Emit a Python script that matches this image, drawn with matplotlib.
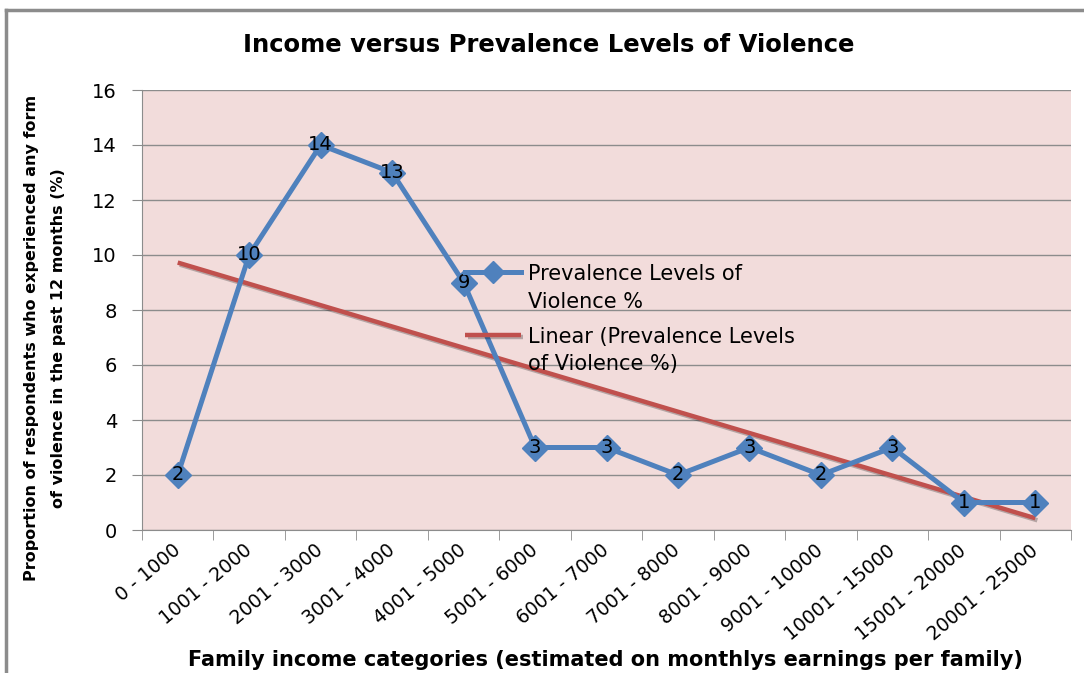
import numpy as np
import matplotlib
matplotlib.use('Agg')
import matplotlib.pyplot as plt
import matplotlib.patheffects as pe
from matplotlib.lines import Line2D
from matplotlib.legend_handler import HandlerLine2D

plt.rcParams['font.family'] = ['DejaVu Sans']

# income bands and share of respondents reporting violence (%)
categories = ['0 - 1000', '1001 - 2000', '2001 - 3000', '3001 - 4000', '4001 - 5000',
              '5001 - 6000', '6001 - 7000', '7001 - 8000', '8001 - 9000', '9001 - 10000',
              '10001 - 15000', '15001 - 20000', '20001 - 25000']
prevalence = [2, 10, 14, 13, 9, 3, 3, 2, 3, 2, 3, 1, 1]

blue = '#4F81BD'
red = '#C0504D'
grey = '#8C8C8C'
LEG_FS = 15


class TopLineHandler(HandlerLine2D):
    # put the legend key beside the first line of a two-line label
    def create_artists(self, legend, orig_handle, xdescent, ydescent, width, height,
                       fontsize, trans):
        arts = super().create_artists(legend, orig_handle, xdescent, ydescent, width,
                                      height, fontsize, trans)
        for a in arts:
            a.set_ydata(np.asarray(a.get_ydata(), dtype=float) + 0.8 * fontsize)
        return arts


x = np.arange(1, len(categories) + 1)
slope, intercept = np.polyfit(x, prevalence, 1)
trend = slope * x + intercept

fig = plt.figure(figsize=(10.84, 6.73), dpi=100)
ax = fig.add_axes([142/1084, 1 - 530/673, (1071 - 142)/1084, 440/673])
ax.set_facecolor('#F2DCDB')

ax.plot(x[[0, -1]], trend[[0, -1]], color=red, lw=3.2, solid_capstyle='butt',
        label='Linear (Prevalence Levels\nof Violence %)', zorder=3,
        path_effects=[pe.SimpleLineShadow(offset=(1.5, -1.5), alpha=0.25), pe.Normal()])
ax.plot(x, prevalence, color=blue, lw=3.6, marker='D', markersize=13,
        label='Prevalence Levels of\nViolence %', zorder=4)
for xi, v in zip(x, prevalence):
    ax.text(xi, v, str(v), ha='center', va='center', fontsize=14, color='black', zorder=5)

ax.set_xlim(0.5, len(categories) + 0.5)
ax.set_ylim(0, 16)
ax.set_yticks(np.arange(0, 17, 2))
ax.yaxis.grid(True, color=grey, lw=1)
ax.set_axisbelow(True)
ax.set_xticks(x)
ax.set_xticklabels(categories, rotation=40, ha='right', va='center', rotation_mode='anchor',
                   fontsize=13.5)
ax.set_xticks(np.arange(0.5, len(categories) + 1), minor=True)
ax.tick_params(axis='x', which='major', length=0, pad=13)
ax.tick_params(axis='x', which='minor', length=7, color=grey)
ax.tick_params(axis='y', length=7, color=grey, labelsize=14, pad=11)
for side in ['top', 'right']:
    ax.spines[side].set_visible(False)
for side in ['left', 'bottom']:
    ax.spines[side].set_color(grey)

handles, labels = ax.get_legend_handles_labels()
leg = ax.legend(handles[::-1], labels[::-1], loc='upper left',
                bbox_to_anchor=(455/1084, 1 - 254/673), bbox_transform=fig.transFigure,
                frameon=False, fontsize=LEG_FS, handlelength=2.65, labelspacing=0.75,
                handletextpad=0.35, borderpad=0, markerscale=0.9,
                handler_map={Line2D: TopLineHandler()})
for t in leg.get_texts():
    t.set_linespacing(1.45)

fig.text(549/1084, 1 - 45/673, 'Income versus Prevalence Levels of Violence',
         ha='center', va='center', fontsize=17.5, fontweight='bold')
fig.text(605/1084, 1 - 660/673,
         'Family income categories (estimated on monthlys earnings per family)',
         ha='center', va='center', fontsize=15, fontweight='bold')
fig.text(45/1084, 1 - 338/673,
         'Proportion of respondents who experienced any form\nof violence in the past 12 months (%)',
         ha='center', va='center', rotation=90, fontsize=11.5, fontweight='bold',
         linespacing=1.95)

# chart frame
fig.add_artist(Line2D([6/1084, 1], [1 - 10/673, 1 - 10/673], color=grey, lw=2.5))
fig.add_artist(Line2D([6/1084, 6/1084], [0, 1 - 10/673], color=grey, lw=2.5))

fig.savefig('out.png', dpi=100)
